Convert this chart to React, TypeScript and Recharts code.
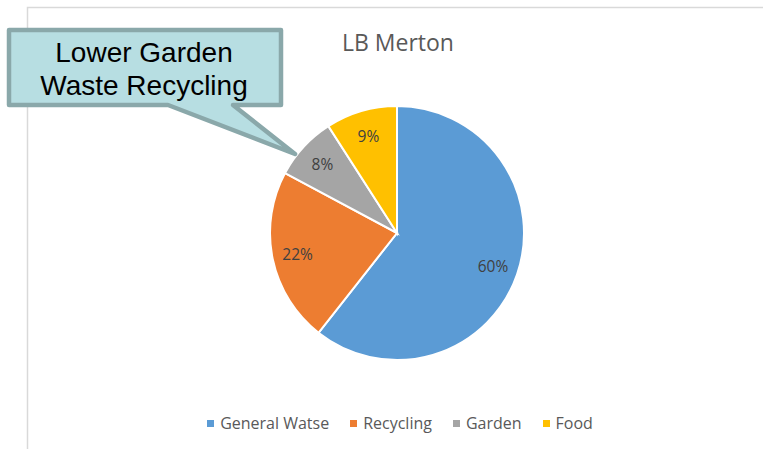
import React from 'react';
import { PieChart, Pie, Cell, Legend } from 'recharts';

// values
const categories = ['General Watse', 'Recycling', 'Garden', 'Food'];
const shares = [60, 22, 8, 9];
const colors = ['#5B9BD5', '#ED7D31', '#A5A5A5', '#FFC000'];

const data = categories.map((name, i) => ({ name, value: shares[i] }));

const RAD = Math.PI / 180;

const renderLabel = (props: any) => {
  const { cx, cy, midAngle, outerRadius, value } = props;
  const r = outerRadius * 0.8;
  const x = cx + r * Math.cos(-midAngle * RAD);
  const y = cy + r * Math.sin(-midAngle * RAD);
  return (
    <text
      x={x}
      y={y}
      fill="#404040"
      fontSize={15.5}
      fontFamily="Open Sans, sans-serif"
      textAnchor="middle"
      dominantBaseline="central"
    >
      {value}%
    </text>
  );
};

// legend drawn in the data order, not recharts' payload order
const renderLegend = () => (
  <div style={{ display: 'flex', justifyContent: 'center', gap: 21 }}>
    {categories.map((name, i) => (
      <div key={name} style={{ display: 'flex', alignItems: 'center' }}>
        <span
          style={{
            width: 7,
            height: 7,
            background: colors[i],
            display: 'inline-block',
            marginRight: 6,
          }}
        />
        <span style={{ color: '#595959', fontSize: 16, fontFamily: 'Open Sans, sans-serif' }}>
          {name}
        </span>
      </div>
    ))}
  </div>
);

const App: React.FC = () => {
  return (
    <div style={{ position: 'absolute', left: 0, top: 0, width: 763, height: 449, background: '#fff' }}>
      <PieChart width={763} height={449} margin={{ top: 0, right: 0, bottom: 0, left: 0 }}>
        <Pie
          data={data}
          dataKey="value"
          nameKey="name"
          cx={397}
          cy={233}
          outerRadius={127}
          startAngle={90}
          endAngle={-270}
          stroke="#fff"
          strokeWidth={2}
          label={renderLabel}
          labelLine={false}
          isAnimationActive={false}
        >
          {data.map((d, i) => (
            <Cell key={d.name} fill={colors[i]} />
          ))}
        </Pie>
        <Legend
          content={renderLegend}
          verticalAlign="bottom"
          wrapperStyle={{ top: 412, left: 0, width: 800, height: 26 }}
        />
      </PieChart>
      <svg
        width={763}
        height={449}
        style={{ position: 'absolute', left: 0, top: 0, pointerEvents: 'none' }}
      >
        <path d="M27.5 449 V7.5 H763" fill="none" stroke="#d9d9d9" strokeWidth={1.5} />
        <text
          x={398}
          y={51}
          textAnchor="middle"
          fontSize={23}
          fill="#595959"
          fontFamily="Open Sans, sans-serif"
        >
          LB Merton
        </text>
        <path
          d="M9 30 H281 V105 H233 L295 154 L168 105 H9 Z"
          fill="#b7dee2"
          stroke="#8aa8aa"
          strokeWidth={4.5}
          strokeLinejoin="round"
        />
        <text x={144} y={62} textAnchor="middle" fontSize={28} fill="#000" fontFamily="Liberation Sans, Arial, sans-serif">
          Lower Garden
        </text>
        <text x={144} y={95} textAnchor="middle" fontSize={28} fill="#000" fontFamily="Liberation Sans, Arial, sans-serif">
          Waste Recycling
        </text>
      </svg>
    </div>
  );
};

export default App;
